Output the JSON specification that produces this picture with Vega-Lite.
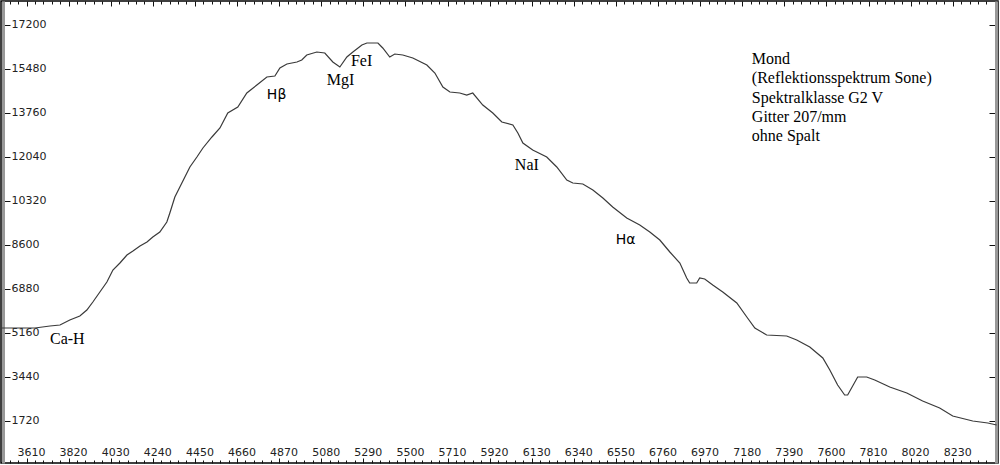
{
  "$schema": "https://vega.github.io/schema/vega-lite/v6.json",
  "width": 997,
  "height": 462,
  "autosize": {"type": "none"},
  "padding": {"left": 1, "top": 1, "right": 2, "bottom": 2},
  "background": "white",
  "config": {
    "view": {"stroke": "#000", "strokeWidth": 1.5},
    "axis": {"grid": false, "labelFont": "DejaVu Sans", "labelFontSize": 11, "labelColor": "#222", "tickColor": "#111", "title": null, "labelFlush": false, "labelOverlap": false}
  },
  "datasets": {
    "spectrum": [
      {"wavelength": 3482, "intensity": 5355}, {"wavelength": 3652, "intensity": 5355}, {"wavelength": 3727, "intensity": 5434}, {"wavelength": 3777, "intensity": 5473}, {"wavelength": 3826, "intensity": 5668}, {"wavelength": 3876, "intensity": 5824}, {"wavelength": 3911, "intensity": 6059}, {"wavelength": 3941, "intensity": 6372}, {"wavelength": 3976, "intensity": 6763}, {"wavelength": 4011, "intensity": 7154}, {"wavelength": 4041, "intensity": 7623}, {"wavelength": 4076, "intensity": 7896}, {"wavelength": 4111, "intensity": 8209}, {"wavelength": 4141, "intensity": 8365}, {"wavelength": 4176, "intensity": 8561}, {"wavelength": 4211, "intensity": 8717}, {"wavelength": 4240, "intensity": 8913}, {"wavelength": 4275, "intensity": 9108}, {"wavelength": 4310, "intensity": 9499}, {"wavelength": 4325, "intensity": 9851}, {"wavelength": 4350, "intensity": 10476}, {"wavelength": 4375, "intensity": 10867}, {"wavelength": 4400, "intensity": 11258}, {"wavelength": 4425, "intensity": 11649}, {"wavelength": 4460, "intensity": 12040}, {"wavelength": 4490, "intensity": 12392}, {"wavelength": 4535, "intensity": 12822}, {"wavelength": 4575, "intensity": 13173}, {"wavelength": 4614, "intensity": 13760}, {"wavelength": 4664, "intensity": 13994}, {"wavelength": 4709, "intensity": 14542}, {"wavelength": 4759, "intensity": 14854}, {"wavelength": 4809, "intensity": 15167}, {"wavelength": 4849, "intensity": 15206}, {"wavelength": 4874, "intensity": 15519}, {"wavelength": 4909, "intensity": 15675}, {"wavelength": 4959, "intensity": 15753}, {"wavelength": 4983, "intensity": 15831}, {"wavelength": 5008, "intensity": 16027}, {"wavelength": 5058, "intensity": 16144}, {"wavelength": 5098, "intensity": 16105}, {"wavelength": 5138, "intensity": 15753}, {"wavelength": 5173, "intensity": 15558}, {"wavelength": 5208, "intensity": 15949}, {"wavelength": 5238, "intensity": 16144}, {"wavelength": 5283, "intensity": 16418}, {"wavelength": 5308, "intensity": 16496}, {"wavelength": 5363, "intensity": 16496}, {"wavelength": 5387, "intensity": 16301}, {"wavelength": 5422, "intensity": 15949}, {"wavelength": 5447, "intensity": 16066}, {"wavelength": 5487, "intensity": 16027}, {"wavelength": 5537, "intensity": 15910}, {"wavelength": 5607, "intensity": 15636}, {"wavelength": 5647, "intensity": 15323}, {"wavelength": 5687, "intensity": 14776}, {"wavelength": 5722, "intensity": 14581}, {"wavelength": 5771, "intensity": 14542}, {"wavelength": 5806, "intensity": 14463}, {"wavelength": 5836, "intensity": 14542}, {"wavelength": 5886, "intensity": 14072}, {"wavelength": 5936, "intensity": 13760}, {"wavelength": 5981, "intensity": 13408}, {"wavelength": 6036, "intensity": 13291}, {"wavelength": 6061, "intensity": 12978}, {"wavelength": 6086, "intensity": 12587}, {"wavelength": 6135, "intensity": 12313}, {"wavelength": 6205, "intensity": 12040}, {"wavelength": 6255, "intensity": 11649}, {"wavelength": 6305, "intensity": 11141}, {"wavelength": 6335, "intensity": 11023}, {"wavelength": 6385, "intensity": 10984}, {"wavelength": 6435, "intensity": 10750}, {"wavelength": 6485, "intensity": 10437}, {"wavelength": 6534, "intensity": 10085}, {"wavelength": 6604, "intensity": 9655}, {"wavelength": 6669, "intensity": 9382}, {"wavelength": 6719, "intensity": 9108}, {"wavelength": 6769, "intensity": 8795}, {"wavelength": 6819, "intensity": 8326}, {"wavelength": 6869, "intensity": 7896}, {"wavelength": 6903, "intensity": 7310}, {"wavelength": 6918, "intensity": 7114}, {"wavelength": 6953, "intensity": 7114}, {"wavelength": 6968, "intensity": 7310}, {"wavelength": 6993, "intensity": 7271}, {"wavelength": 7033, "intensity": 7036}, {"wavelength": 7083, "intensity": 6763}, {"wavelength": 7153, "intensity": 6333}, {"wavelength": 7203, "intensity": 5785}, {"wavelength": 7243, "intensity": 5355}, {"wavelength": 7302, "intensity": 5082}, {"wavelength": 7402, "intensity": 5043}, {"wavelength": 7452, "intensity": 4886}, {"wavelength": 7517, "intensity": 4613}, {"wavelength": 7582, "intensity": 4183}, {"wavelength": 7617, "intensity": 3714}, {"wavelength": 7656, "intensity": 3127}, {"wavelength": 7691, "intensity": 2736}, {"wavelength": 7706, "intensity": 2736}, {"wavelength": 7756, "intensity": 3440}, {"wavelength": 7801, "intensity": 3440}, {"wavelength": 7841, "intensity": 3323}, {"wavelength": 7916, "intensity": 3049}, {"wavelength": 8001, "intensity": 2815}, {"wavelength": 8080, "intensity": 2502}, {"wavelength": 8165, "intensity": 2228}, {"wavelength": 8230, "intensity": 1915}, {"wavelength": 8330, "intensity": 1720}, {"wavelength": 8405, "intensity": 1642}, {"wavelength": 8449, "intensity": 1564}
    ],
    "serifLabels": [
      {"wavelength": 3727, "intensity": 4730, "label": "Ca-H"},
      {"wavelength": 5108, "intensity": 14854, "label": "MgI"},
      {"wavelength": 5228, "intensity": 15597, "label": "FeI"},
      {"wavelength": 6046, "intensity": 11532, "label": "NaI"}
    ],
    "sansLabels": [
      {"wavelength": 4809, "intensity": 14307, "label": "Hβ"},
      {"wavelength": 6549, "intensity": 8639, "label": "Hα"}
    ],
    "info": [
      {"wavelength": 7228, "intensity": 15675, "label": "Mond"},
      {"wavelength": 7228, "intensity": 14932, "label": "(Reflektionsspektrum Sone)"},
      {"wavelength": 7228, "intensity": 14151, "label": "Spektralklasse G2 V"},
      {"wavelength": 7228, "intensity": 13408, "label": "Gitter 207/mm"},
      {"wavelength": 7228, "intensity": 12665, "label": "ohne Spalt"}
    ]
  },
  "resolve": {"axis": {"x": "independent", "y": "independent"}},
  "layer": [
    {
      "data": {"name": "spectrum"},
      "mark": {"type": "line", "stroke": "#3a3a3a", "strokeWidth": 1.2},
      "encoding": {
        "x": {"field": "wavelength", "type": "quantitative", "scale": {"domain": [3482.8, 8455.9], "nice": false, "zero": false},
          "axis": {"orient": "bottom", "values": [3610, 3820, 4030, 4240, 4450, 4660, 4870, 5080, 5290, 5500, 5710, 5920, 6130, 6340, 6550, 6760, 6970, 7180, 7390, 7600, 7810, 8020, 8230], "format": "d", "tickSize": -5, "labelPadding": -12, "labelOffset": 4.5, "domain": false}},
        "y": {"field": "intensity", "type": "quantitative", "scale": {"domain": [78, 18138], "nice": false, "zero": false},
          "axis": {"orient": "left", "values": [1720, 3440, 5160, 6880, 8600, 10320, 12040, 13760, 15480, 17200], "format": "d", "tickSize": -7, "labelPadding": -1, "labelAlign": "left", "labelBaseline": "middle", "domain": true, "domainColor": "#999", "domainWidth": 3, "offset": -2}}
      }
    },
    {
      "data": {"name": "serifLabels"},
      "mark": {"type": "text", "font": "Liberation Serif", "fontSize": 16, "color": "#000", "align": "left", "baseline": "alphabetic"},
      "encoding": {
        "x": {"field": "wavelength", "type": "quantitative", "scale": {"domain": [3482.8, 8455.9], "nice": false, "zero": false},
          "axis": {"orient": "bottom", "values": [3526, 3568, 3652, 3694, 3736, 3778, 3862, 3904, 3946, 3988, 4072, 4114, 4156, 4198, 4282, 4324, 4366, 4408, 4492, 4534, 4576, 4618, 4702, 4744, 4786, 4828, 4912, 4954, 4996, 5038, 5122, 5164, 5206, 5248, 5332, 5374, 5416, 5458, 5542, 5584, 5626, 5668, 5752, 5794, 5836, 5878, 5962, 6004, 6046, 6088, 6172, 6214, 6256, 6298, 6382, 6424, 6466, 6508, 6592, 6634, 6676, 6718, 6802, 6844, 6886, 6928, 7012, 7054, 7096, 7138, 7222, 7264, 7306, 7348, 7432, 7474, 7516, 7558, 7642, 7684, 7726, 7768, 7852, 7894, 7936, 7978, 8062, 8104, 8146, 8188, 8272, 8314, 8356, 8398], "tickSize": -3, "labels": false, "domain": false}},
        "y": {"field": "intensity", "type": "quantitative", "scale": {"domain": [78, 18138], "nice": false, "zero": false},
          "axis": {"orient": "right", "values": [1720, 3440, 5160, 6880, 8600, 10320, 12040, 13760, 15480, 17200], "tickSize": -7, "labels": false, "domain": true, "domainColor": "#999", "domainWidth": 3, "offset": -2}},
        "text": {"field": "label", "type": "nominal"}
      }
    },
    {
      "data": {"name": "sansLabels"},
      "mark": {"type": "text", "font": "DejaVu Sans", "fontSize": 14, "color": "#000", "align": "left", "baseline": "alphabetic"},
      "encoding": {
        "x": {"field": "wavelength", "type": "quantitative", "scale": {"domain": [3482.8, 8455.9], "nice": false, "zero": false},
          "axis": {"orient": "top", "values": [3610, 3820, 4030, 4240, 4450, 4660, 4870, 5080, 5290, 5500, 5710, 5920, 6130, 6340, 6550, 6760, 6970, 7180, 7390, 7600, 7810, 8020, 8230, 8440], "tickSize": -5, "labels": false, "domain": false}},
        "y": {"field": "intensity", "type": "quantitative", "scale": {"domain": [78, 18138], "nice": false, "zero": false}, "axis": null},
        "text": {"field": "label", "type": "nominal"}
      }
    },
    {
      "data": {"name": "info"},
      "mark": {"type": "text", "font": "Liberation Serif", "fontSize": 16, "color": "#000", "align": "left", "baseline": "alphabetic"},
      "encoding": {
        "x": {"field": "wavelength", "type": "quantitative", "scale": {"domain": [3482.8, 8455.9], "nice": false, "zero": false},
          "axis": {"orient": "top", "values": [3526, 3568, 3652, 3694, 3736, 3778, 3862, 3904, 3946, 3988, 4072, 4114, 4156, 4198, 4282, 4324, 4366, 4408, 4492, 4534, 4576, 4618, 4702, 4744, 4786, 4828, 4912, 4954, 4996, 5038, 5122, 5164, 5206, 5248, 5332, 5374, 5416, 5458, 5542, 5584, 5626, 5668, 5752, 5794, 5836, 5878, 5962, 6004, 6046, 6088, 6172, 6214, 6256, 6298, 6382, 6424, 6466, 6508, 6592, 6634, 6676, 6718, 6802, 6844, 6886, 6928, 7012, 7054, 7096, 7138, 7222, 7264, 7306, 7348, 7432, 7474, 7516, 7558, 7642, 7684, 7726, 7768, 7852, 7894, 7936, 7978, 8062, 8104, 8146, 8188, 8272, 8314, 8356, 8398], "tickSize": -3, "labels": false, "domain": false}},
        "y": {"field": "intensity", "type": "quantitative", "scale": {"domain": [78, 18138], "nice": false, "zero": false}, "axis": null},
        "text": {"field": "label", "type": "nominal"}
      }
    }
  ]
}
